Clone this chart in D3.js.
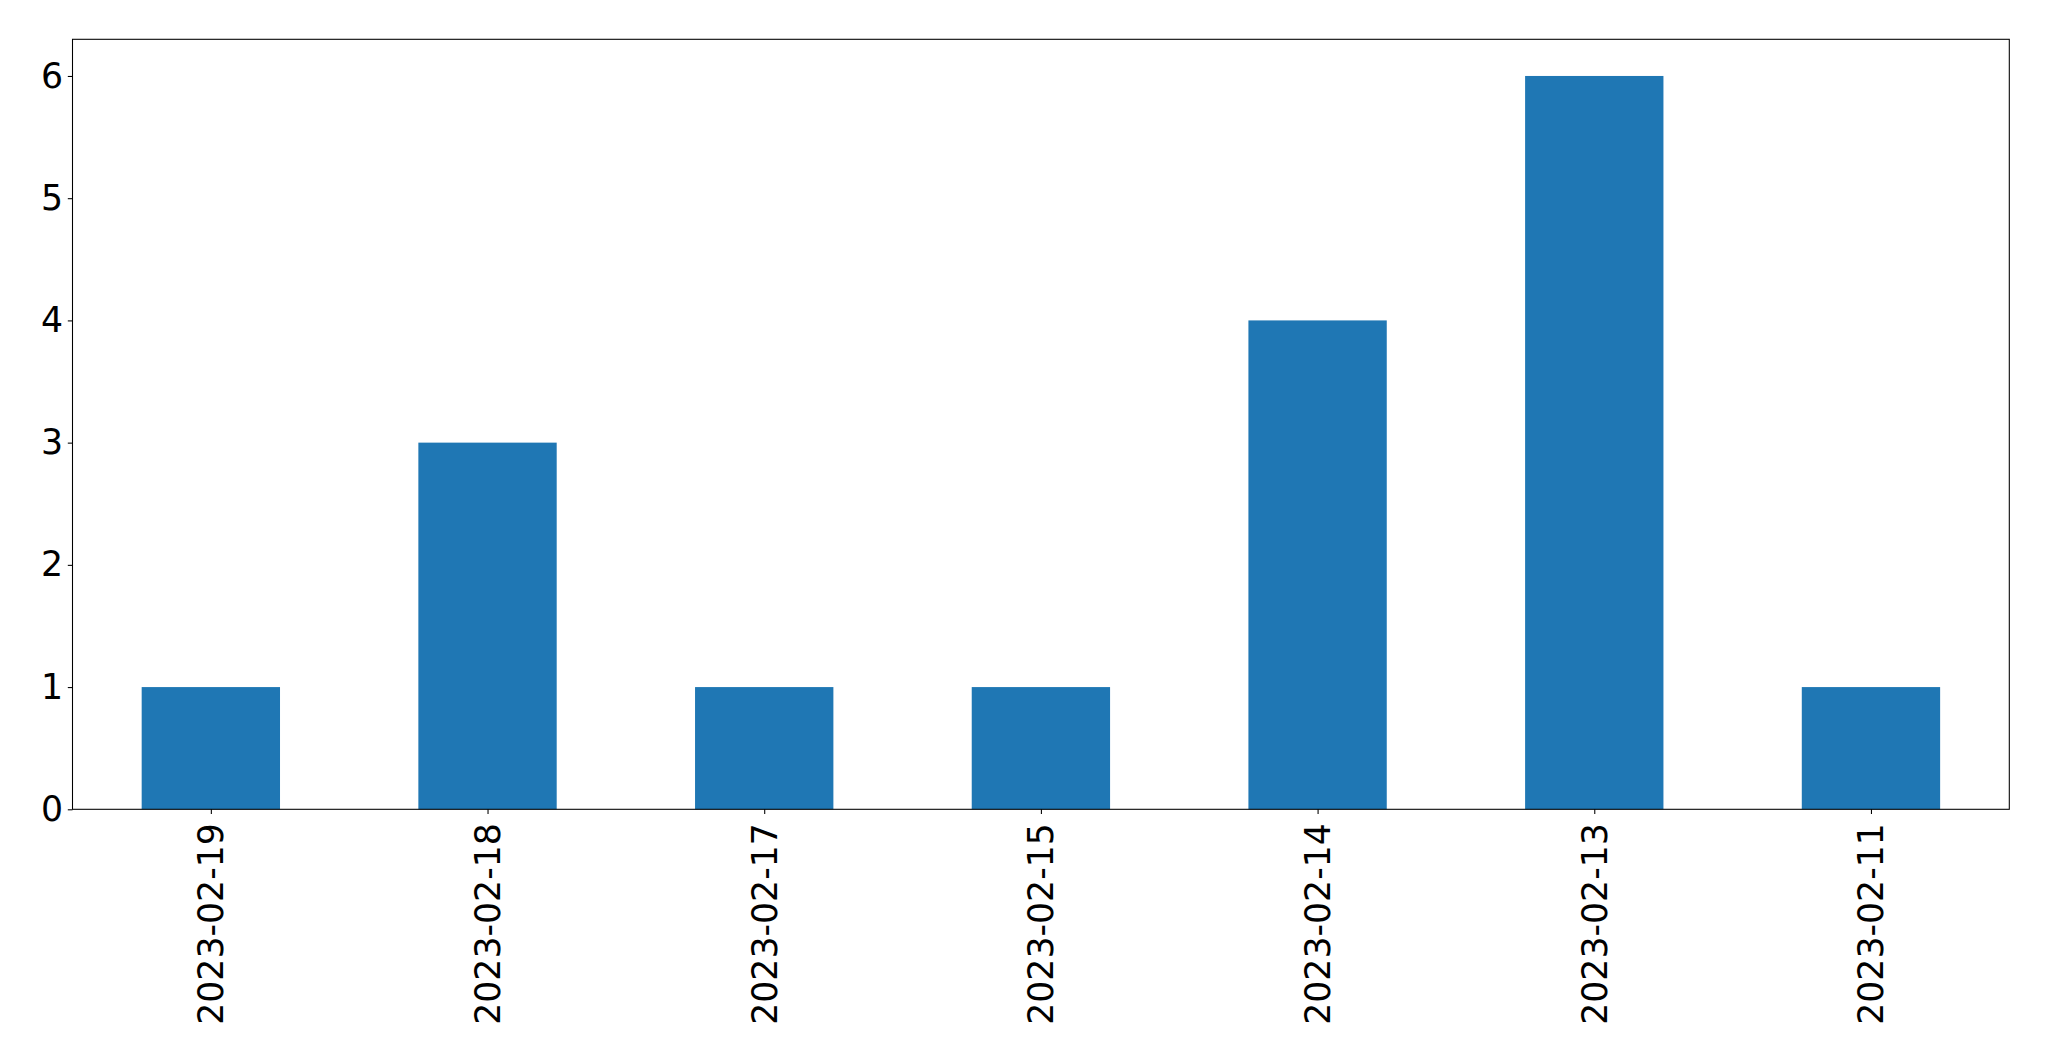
<!DOCTYPE html>
<html>
<head>
<meta charset="utf-8">
<script src="https://cdn.jsdelivr.net/npm/d3@7"></script>
<style>
  html, body { margin: 0; padding: 0; background: #fff; }
  svg { display: block; }
</style>
</head>
<body>
<svg id="chart" width="2049" height="1061"></svg>
<script>
const categories = ["2023-02-19", "2023-02-18", "2023-02-17", "2023-02-15", "2023-02-14", "2023-02-13", "2023-02-11"];
const values = [1, 3, 1, 1, 4, 6, 1];
const yTicks = [0, 1, 2, 3, 4, 5, 6];

const W = 2049, H = 1061;
const margin = { left: 72.5, right: W - 2009.3, top: 39.3, bottom: H - 809.3 };
const fontSize = 34.7;
const fontFamily = "'DejaVu Sans', sans-serif";

const svg = d3.select("#chart");

const x = d3.scaleLinear().domain([-0.5, categories.length - 0.5]).range([margin.left, W - margin.right]);
const y = d3.scaleLinear().domain([0, 6.3]).range([H - margin.bottom, margin.top]);
const barW = 0.5;

svg.append("g").selectAll("rect").data(values).join("rect")
  .attr("x", (d, i) => x(i - barW / 2))
  .attr("width", (d, i) => x(i + barW / 2) - x(i - barW / 2))
  .attr("y", d => y(d))
  .attr("height", d => y(0) - y(d))
  .attr("fill", "#1f77b4");

const tickLen = 4.7, pad = 4.7;

const yAxis = d3.axisLeft(y).tickValues(yTicks).tickFormat(d3.format("d")).tickSize(tickLen).tickPadding(pad);
const gy = svg.append("g").attr("transform", `translate(${margin.left},0)`).call(yAxis);
gy.select(".domain").remove();
gy.selectAll("line").attr("stroke", "#000").attr("stroke-width", 1.07);
gy.selectAll("text").attr("font-size", fontSize).attr("font-family", fontFamily).attr("fill", "#000");

const xAxis = d3.axisBottom(x).tickValues(d3.range(categories.length)).tickFormat(i => categories[i]).tickSize(tickLen).tickPadding(pad);
const gx = svg.append("g").attr("transform", `translate(0,${H - margin.bottom})`).call(xAxis);
gx.select(".domain").remove();
gx.selectAll("line").attr("stroke", "#000").attr("stroke-width", 1.07);
gx.selectAll("text")
  .attr("font-size", fontSize).attr("font-family", fontFamily).attr("fill", "#000")
  .attr("x", 0).attr("y", 0).attr("dy", null)
  .attr("text-anchor", "end")
  .attr("dominant-baseline", "central")
  .attr("transform", `translate(0,${tickLen + pad + 4.5}) rotate(-90)`);

svg.append("rect")
  .attr("x", margin.left).attr("y", margin.top)
  .attr("width", W - margin.right - margin.left)
  .attr("height", H - margin.bottom - margin.top)
  .attr("fill", "none").attr("stroke", "#000").attr("stroke-width", 1.07);
</script>
</body>
</html>
